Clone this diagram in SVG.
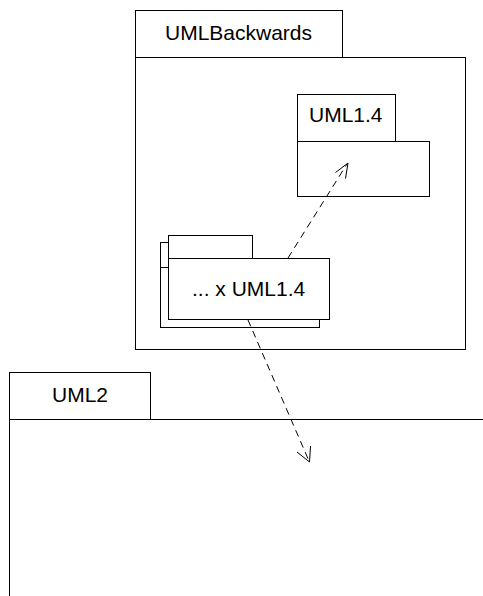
<svg xmlns="http://www.w3.org/2000/svg" width="483" height="596" viewBox="0 0 483 596">
<defs>
<style>
.box{fill:#fff;stroke:#000;stroke-width:1}
.t{font-family:"Liberation Sans",Arial,sans-serif;font-size:21px;fill:#000}
.dep{fill:none;stroke:#000;stroke-width:1;stroke-dasharray:7,5}
.head{fill:none;stroke:#000;stroke-width:1}
</style>
</defs>
<rect width="483" height="596" fill="#fff"/>
<g id="UMLBackwards">
<rect class="box" x="135.5" y="10.5" width="207" height="47"/>
<rect class="box" x="135.5" y="57.5" width="330" height="292"/>
<text class="t" x="165" y="40">UMLBackwards</text>
</g>
<g id="UML1.4">
<rect class="box" x="297.5" y="94.5" width="98" height="47"/>
<rect class="box" x="297.5" y="141.5" width="132" height="55"/>
<text class="t" x="309" y="122">UML1.4</text>
</g>
<g id="xUML1.4">
<rect class="box" x="160.5" y="242.5" width="84" height="25"/>
<rect class="box" x="160.5" y="267.5" width="159" height="60"/>
<rect class="box" x="168.5" y="235.5" width="84" height="23"/>
<rect class="box" x="168.5" y="258.5" width="161" height="61"/>
<text class="t" x="192" y="296">... x UML1.4</text>
</g>
<g id="UML2">
<rect class="box" x="9.5" y="372.5" width="141" height="47"/>
<path class="box" d="M9.5 419.5 H483 M9.5 419.5 V596" fill="none"/>
<text class="t" x="52" y="402">UML2</text>
</g>
<g id="connectors">
<path class="dep" d="M288 258 L347 164"/>
<path class="head" d="M335.5 172.5 L348 163 L345.5 178.5"/>
<path class="dep" d="M248 320 L309 461"/>
<path class="head" d="M297 452 L309.5 462 L310.5 446"/>
</g>
</svg>
